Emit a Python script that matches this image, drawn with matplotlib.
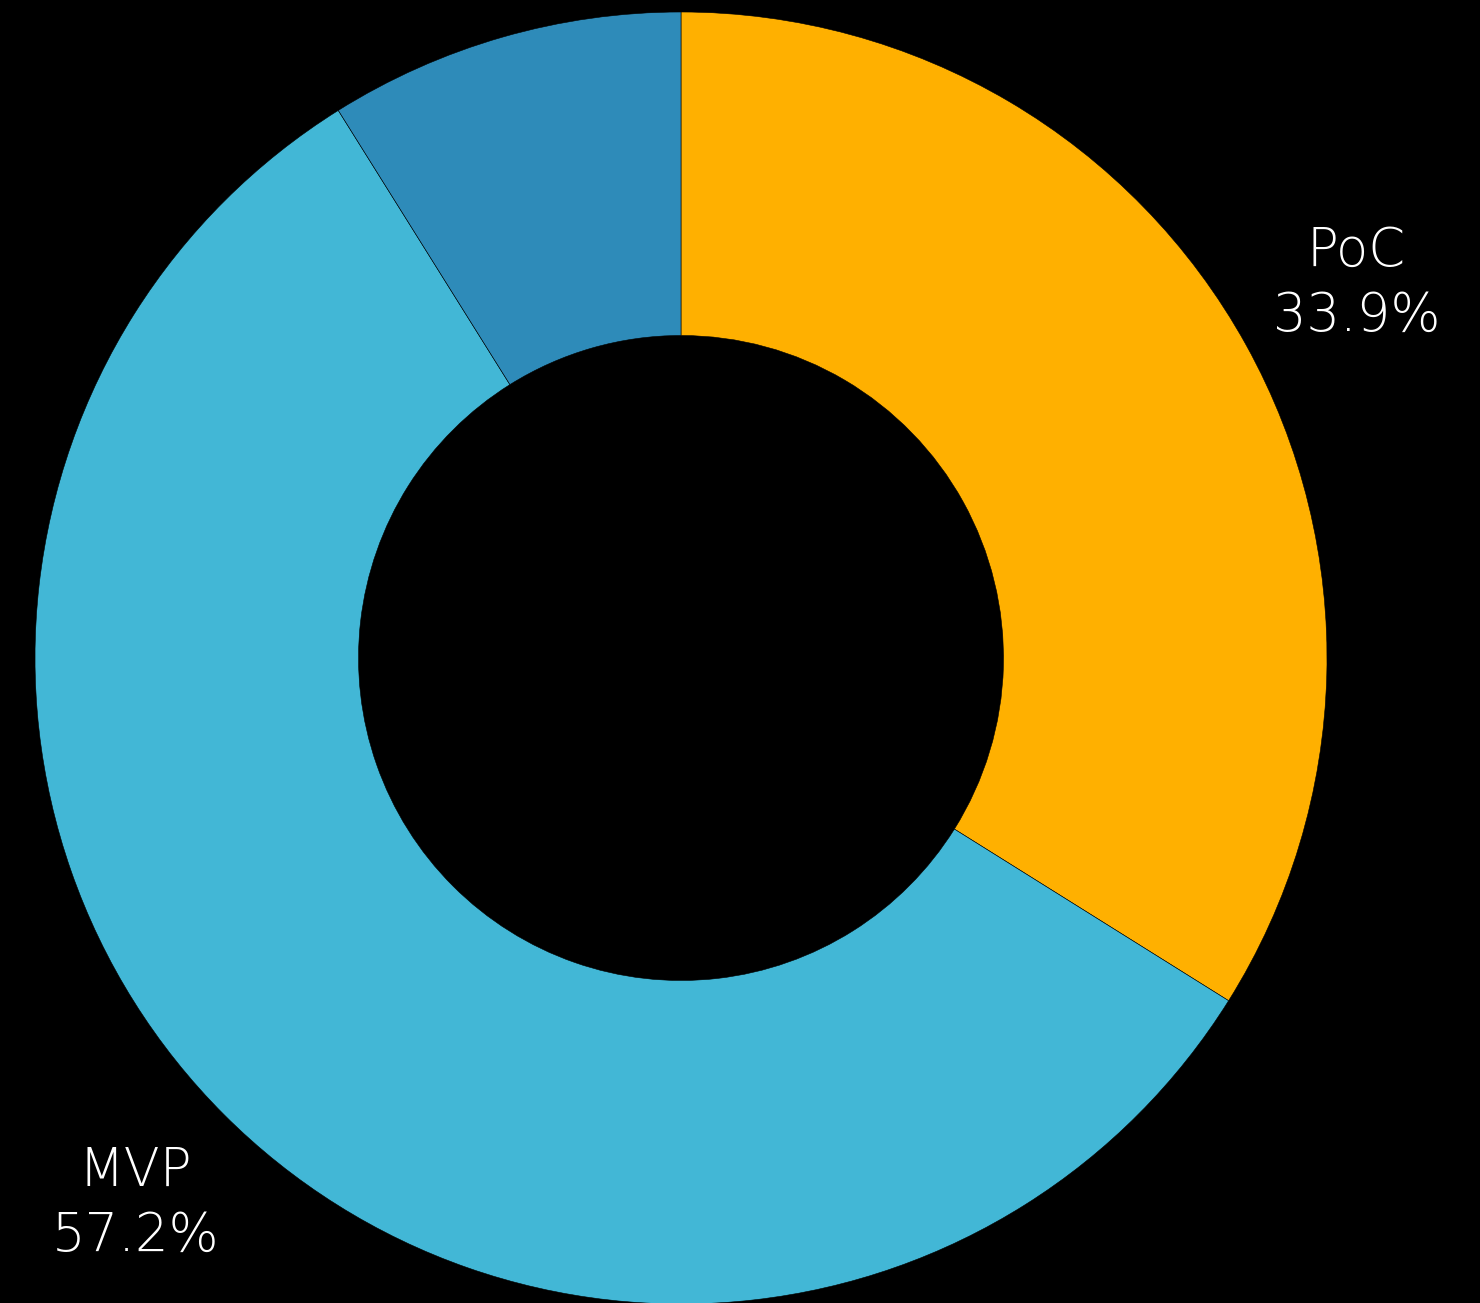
import matplotlib
matplotlib.use("Agg")
import matplotlib.pyplot as plt

categories = ["PoC", "MVP", "Other"]
shares = [33.9, 57.2, 8.9]
colors = ["#FFB000", "#42B7D6", "#2E8BB9"]
shown = [True, True, False]

W, H = 1480, 1303
fig = plt.figure(figsize=(W / 100, H / 100), dpi=100, facecolor="black")
ax = fig.add_axes([0, 0, 1, 1])
ax.set_facecolor("black")

R = 646
r_in = 322.5
cx, cy = 681, H - 658

labels = [f"{c}\n{v:.1f}%" if s else "" for c, v, s in zip(categories, shares, shown)]
wedges, texts = ax.pie(
    shares, colors=colors, startangle=90, counterclock=False,
    radius=R, center=(cx, cy), frame=True,
    wedgeprops=dict(width=R - r_in, edgecolor="black", linewidth=0.4),
    labels=labels, labeldistance=1.195,
    textprops=dict(color="white", fontsize=38, fontweight="light",
                   family=["DejaVu Sans"], ha="center", va="center",
                   linespacing=1.3),
)
ax.set_xlim(0, W)
ax.set_ylim(0, H)
ax.set_aspect("equal")
ax.axis("off")

fig.savefig("out.png", dpi=100, facecolor="black")
